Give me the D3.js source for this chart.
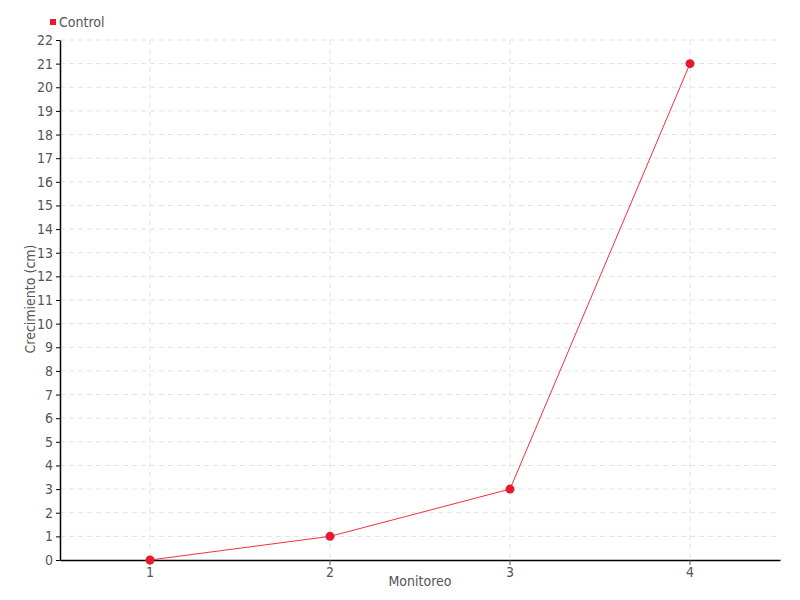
<!DOCTYPE html>
<html>
<head>
<meta charset="utf-8">
<script src="https://cdn.jsdelivr.net/npm/d3@7"></script>
<style>
  body { margin: 0; background: #fff; }
  text { font-family: "DejaVu Sans Condensed", "DejaVu Sans", sans-serif; fill: #555; }
</style>
</head>
<body>
<svg width="800" height="600"></svg>
<script>
const categories = ['1', '2', '3', '4'];
const control = [0, 1, 3, 21];
const yTicks = d3.range(0, 23);

const margin = {top: 40, right: 20, bottom: 40, left: 60};
const width = 800, height = 600;

const svg = d3.select('svg');

const x = d3.scaleBand()
    .domain(categories)
    .range([margin.left, width - margin.right]);

const y = d3.scaleLinear()
    .domain([0, 22])
    .range([height - margin.bottom, margin.top]);

const cx = d => x(d) + x.bandwidth() / 2;

// grid
const grid = svg.append('g')
    .attr('stroke', '#e3e3e3')
    .attr('stroke-dasharray', '5,4');

grid.selectAll('line.h')
    .data(yTicks.slice(1))
    .enter().append('line')
    .attr('x1', margin.left).attr('x2', width - margin.right)
    .attr('y1', d => y(d)).attr('y2', d => y(d));

grid.selectAll('line.v')
    .data(categories)
    .enter().append('line')
    .attr('x1', cx).attr('x2', cx)
    .attr('y1', margin.top).attr('y2', height - margin.bottom);

// axes
const xAxis = svg.append('g')
    .attr('transform', `translate(0,${height - margin.bottom})`)
    .call(d3.axisBottom(x).tickSize(5).tickSizeOuter(0).tickPadding(2));
xAxis.select('.domain').attr('stroke', '#000').attr('stroke-width', 1.5);
xAxis.selectAll('.tick line').attr('stroke', '#555');
xAxis.selectAll('text').attr('font-size', 14).attr('fill', '#555');

const yAxis = svg.append('g')
    .attr('transform', `translate(${margin.left},0)`)
    .call(d3.axisLeft(y).tickValues(yTicks).tickFormat(d3.format('d')).tickSize(4).tickSizeOuter(0).tickPadding(3));
yAxis.select('.domain').attr('stroke', '#000').attr('stroke-width', 1.5);
yAxis.selectAll('.tick line').attr('stroke', '#000');
yAxis.selectAll('text').attr('font-size', 14).attr('fill', '#555');

// axis titles
svg.append('text')
    .attr('x', (margin.left + width - margin.right) / 2)
    .attr('y', 586)
    .attr('text-anchor', 'middle')
    .attr('font-size', 14)
    .text('Monitoreo');

svg.append('text')
    .attr('transform', `translate(35,${(margin.top + height - margin.bottom) / 2 - 1}) rotate(-90)`)
    .attr('text-anchor', 'middle')
    .attr('font-size', 14)
    .text('Crecimiento (cm)');

// series
const line = d3.line()
    .x((d, i) => cx(categories[i]))
    .y(d => y(d));

svg.append('path')
    .datum(control)
    .attr('fill', 'none')
    .attr('stroke', '#f2303c')
    .attr('stroke-width', 1)
    .attr('d', line);

svg.selectAll('circle.pt')
    .data(control)
    .enter().append('circle')
    .attr('cx', (d, i) => cx(categories[i]))
    .attr('cy', d => y(d))
    .attr('r', 4.5)
    .attr('fill', '#e61b2b');

// legend
svg.append('rect')
    .attr('x', 50).attr('y', 19)
    .attr('width', 6).attr('height', 6)
    .attr('fill', '#e61b2b');
svg.append('text')
    .attr('x', 59).attr('y', 27)
    .attr('font-size', 14)
    .text('Control');
</script>
</body>
</html>
